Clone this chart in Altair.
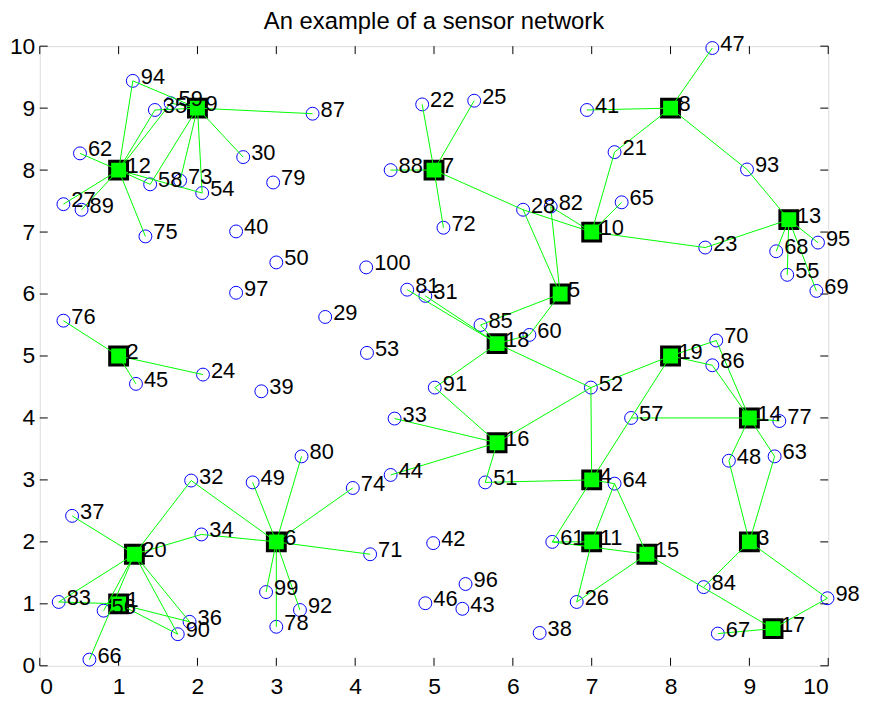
import altair as alt
import pandas as pd

# ---- data ----
node_x = [1.0, 1.0, 9.0, 7.0, 6.6, 3.0, 5.0, 8.0, 2.0, 7.0,
          7.0, 1.0, 9.5, 9.0, 7.7, 5.8, 9.3, 5.8, 8.0, 1.2,
          7.29, 4.85, 8.44, 2.07, 5.51, 6.81, 0.30, 6.13, 3.62, 2.58,
          4.89, 1.92, 4.50, 2.05, 1.46, 1.90, 0.41, 6.34, 2.81, 2.49,
          6.94, 4.99, 5.36, 4.45, 1.22, 4.89, 8.53, 8.74, 2.70, 3.00,
          5.65, 6.99, 4.15, 2.06, 9.48, 0.81, 7.50, 1.40, 1.66, 6.21,
          6.50, 0.51, 9.32, 7.29, 7.38, 0.63, 8.60, 9.34, 9.85, 8.58,
          4.19, 5.12, 1.78, 3.97, 1.34, 0.30, 9.38, 3.00, 2.96, 3.32,
          4.66, 6.48, 0.24, 8.42, 5.59, 8.53, 3.46, 4.45, 0.53, 1.75,
          5.01, 3.30, 8.97, 1.18, 9.87, 5.40, 2.49, 9.99, 2.87, 4.14]
node_y = [1.0, 5.0, 2.0, 3.0, 6.0, 2.0, 8.0, 9.0, 9.0, 7.0,
          2.0, 8.0, 7.2, 4.0, 1.8, 3.6, 0.6, 5.2, 5.0, 1.8,
          8.29, 9.06, 6.75, 4.70, 9.12, 1.03, 7.45, 7.36, 5.63, 8.21,
          5.97, 2.99, 3.99, 2.12, 8.97, 0.71, 2.42, 0.53, 4.43, 7.01,
          8.97, 1.98, 0.92, 3.08, 4.55, 1.01, 9.97, 3.31, 2.96, 6.51,
          2.96, 4.49, 5.05, 7.63, 6.31, 0.89, 4.00, 7.77, 9.08, 5.34,
          2.00, 8.27, 3.38, 2.94, 7.48, 0.10, 0.52, 6.69, 6.05, 5.25,
          1.80, 7.07, 7.83, 2.87, 6.93, 5.57, 3.95, 0.63, 7.80, 3.38,
          6.07, 7.41, 1.03, 1.27, 5.50, 4.85, 8.91, 8.00, 7.36, 0.51,
          4.49, 0.90, 8.01, 9.44, 6.83, 1.32, 6.02, 1.09, 1.19, 6.43]
n_heads = 20

links = [(12, 94), (12, 35), (12, 59), (12, 62), (12, 27), (12, 89), (12, 75), (12, 58), (12, 54),
         (9, 94), (9, 35), (9, 59), (9, 87), (9, 30), (9, 54), (9, 73), (9, 58),
         (7, 22), (7, 25), (7, 88), (7, 72), (7, 28),
         (28, 10), (82, 10), (28, 5), (82, 5), (10, 21), (10, 65), (10, 23), (21, 8),
         (8, 41), (8, 47), (8, 93), (93, 13), (23, 13), (13, 68), (13, 55), (13, 69), (13, 95),
         (5, 85), (5, 60), (18, 60), (18, 85), (18, 81), (18, 31), (18, 91), (18, 52),
         (91, 16), (52, 16), (52, 4), (52, 19), (16, 33), (16, 44), (16, 51), (51, 4),
         (4, 57), (57, 19), (57, 14), (4, 64), (4, 61), (64, 11), (64, 15), (61, 11), (61, 15),
         (11, 26), (26, 15), (15, 17), (17, 67), (17, 98), (98, 3), (3, 84), (3, 48), (3, 63),
         (48, 14), (63, 14), (14, 77), (14, 86), (14, 70), (19, 70), (19, 86),
         (20, 37), (20, 32), (20, 34), (20, 83), (20, 66), (20, 36), (20, 90), (20, 56),
         (1, 83), (1, 36), (1, 90),
         (6, 32), (6, 34), (6, 49), (6, 80), (6, 74), (6, 71), (6, 99), (6, 78), (6, 92),
         (2, 76), (2, 45), (2, 24)]

tick_values = list(range(0, 11))
title_text = ["An example of a sensor network"]

# ---- tables ----
ids = list(range(1, len(node_x) + 1))
nodes = pd.DataFrame({"id": ids, "x": node_x, "y": node_y,
                      "label": [str(i) for i in ids]})
heads = nodes[nodes["id"] <= n_heads]
sensors = nodes[nodes["id"] > n_heads]
edges = pd.DataFrame({
    "x": [node_x[a - 1] for a, b in links],
    "y": [node_y[a - 1] for a, b in links],
    "x2": [node_x[b - 1] for a, b in links],
    "y2": [node_y[b - 1] for a, b in links],
})
ticks = pd.DataFrame({"x": tick_values, "y": tick_values})
title_df = pd.DataFrame({"t": title_text})

W, H = 794, 624
FONT = "Liberation Sans"

xs = alt.Scale(domain=[0, 10], nice=False)
ys = alt.Scale(domain=[0, 10], nice=False)
X = alt.X("x:Q", scale=xs, axis=alt.Axis(values=tick_values, title=None, grid=False, ticks=False,
                                         domain=False, labelFontSize=23, labelFont=FONT,
                                         labelColor="black", labelPadding=10, format="d"))
Y = alt.Y("y:Q", scale=ys, axis=alt.Axis(values=tick_values, title=None, grid=False, ticks=False,
                                         domain=False, labelFontSize=23, labelFont=FONT,
                                         labelColor="black", labelPadding=5, format="d"))

circles = alt.Chart(sensors).mark_point(shape="circle", filled=False, color="#0000ff",
                                        size=169, strokeWidth=1, opacity=1).encode(x=X, y=Y)
squares = alt.Chart(heads).mark_point(shape="square", filled=True, fill="#00ff00", stroke="black",
                                      strokeWidth=3, size=324, opacity=1).encode(x=X, y=Y)
lines = alt.Chart(edges).mark_rule(color="#00ff00", strokeWidth=1).encode(
    x=X, y=Y, x2="x2:Q", y2="y2:Q")
labels = alt.Chart(nodes).mark_text(align="left", baseline="middle", dx=8, dy=-4,
                                    fontSize=22, font=FONT, color="black").encode(
    x=X, y=Y, text="label:N")
title = alt.Chart(title_df).mark_text(align="center", baseline="alphabetic", fontSize=24,
                                      font=FONT, color="black").encode(
    x=alt.value(W / 2), y=alt.value(-17.5), text="t:N")

tl = 8
bottom_ticks = alt.Chart(ticks).mark_rule(color="black", strokeWidth=1).encode(
    x=X, y=alt.value(H), y2=alt.value(H - tl))
top_ticks = alt.Chart(ticks).mark_rule(color="black", strokeWidth=1).encode(
    x=X, y=alt.value(0), y2=alt.value(tl))
left_ticks = alt.Chart(ticks).mark_rule(color="black", strokeWidth=1).encode(
    y=Y, x=alt.value(0), x2=alt.value(tl))
right_ticks = alt.Chart(ticks).mark_rule(color="black", strokeWidth=1).encode(
    y=Y, x=alt.value(W), x2=alt.value(W - tl))

chart = alt.layer(bottom_ticks, top_ticks, left_ticks, right_ticks,
                  circles, squares, lines, labels, title).properties(
    width=W, height=H,
    autosize=alt.AutoSizeParams(type="none"),
    padding={"left": 32, "top": 36, "right": 33, "bottom": 32},
).configure_view(stroke="black", strokeWidth=1.5).configure(background="white")

chart.save("out.html", embed_options={"renderer": "svg", "actions": False})
